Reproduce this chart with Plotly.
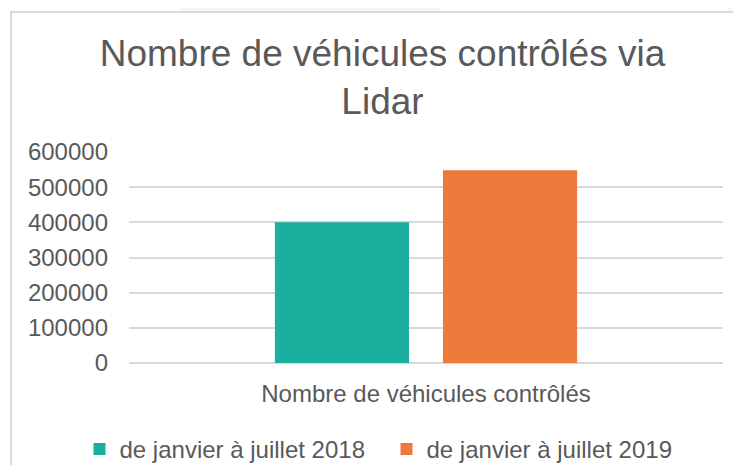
import plotly.graph_objects as go

categories = ["Nombre de véhicules contrôlés"]
series_names = ["de janvier à juillet 2018", "de janvier à juillet 2019"]
values_2018 = [400000]
values_2019 = [548000]
series_colors = ["#1BAF9F", "#ED7A3A"]
y_tick_values = [0, 100000, 200000, 300000, 400000, 500000, 600000]
title_text = "Nombre de véhicules contrôlés via<br>Lidar"

# The page body has an 8px margin, so the figure is drawn 8px right/down.
OFF = 8
W, H = 741 - 2 * OFF, 473 - 2 * OFF
L, T = 129 - OFF, 152 - OFF
R = W - (723 - OFF)
B = H - (363 - OFF)
pw, ph = W - L - R, H - T - B

def px_x(page_px):
    return (page_px - OFF - L) / pw

def px_y(page_py):
    return (H - B - (page_py - OFF)) / ph

font_family = "Liberation Sans, Arial, sans-serif"
text_color = "#595959"
grid_color = "#D9D9D9"

fig = go.Figure()
for name, vals, col in zip(series_names, [values_2018, values_2019], series_colors):
    fig.add_trace(go.Bar(x=categories, y=vals, name=name, marker=dict(color=col, line=dict(width=0))))

fig.update_layout(
    width=W, height=H,
    margin=dict(l=L, r=R, t=T, b=B, pad=0, autoexpand=False),
    paper_bgcolor="white", plot_bgcolor="white",
    barmode="group", bargap=0.434, bargroupgap=0.202,
    font=dict(family=font_family, color=text_color, size=24),
    title=dict(text=title_text, x=(382.5 - OFF) / W, xanchor="center", y=1 - 58 / H, yanchor="top",
               xref="container", yref="container", automargin=False,
               font=dict(size=37, color=text_color, family=font_family)),
    showlegend=True,
    legend=dict(orientation="h", x=px_x(79.5), xanchor="left", y=px_y(449.5), yanchor="middle",
                entrywidth=262, entrywidthmode="pixels",
                font=dict(size=24, color=text_color), bgcolor="rgba(0,0,0,0)", traceorder="normal"),
    xaxis=dict(showgrid=False, showline=False, zeroline=False, ticks="", ticklabelstandoff=14,
               automargin=False, tickfont=dict(size=24, color=text_color)),
    yaxis=dict(range=[0, 600000], tickvals=y_tick_values, tickformat="d", showgrid=True,
               gridcolor=grid_color, gridwidth=1.5, zeroline=True, zerolinecolor=grid_color,
               zerolinewidth=1.5, showline=False, ticks="", ticklabelstandoff=20,
               automargin=False, tickfont=dict(size=24, color=text_color)),
)

# chart border (extends past right/bottom of the view) and top page strips
fig.add_shape(type="rect", xref="paper", yref="paper",
              x0=px_x(11), x1=px_x(780), y0=px_y(12), y1=px_y(520),
              line=dict(color="#D9D9D9", width=2), fillcolor="rgba(0,0,0,0)", layer="below")
fig.add_shape(type="rect", xref="paper", yref="paper",
              x0=px_x(180), x1=px_x(440), y0=px_y(0), y1=px_y(11),
              line=dict(width=0), fillcolor="#F4F5F7", layer="below")
fig.add_shape(type="rect", xref="paper", yref="paper",
              x0=px_x(728), x1=px_x(760), y0=px_y(0), y1=px_y(11),
              line=dict(width=0), fillcolor="#F4F5F7", layer="below")

fig.write_html("out.html")
